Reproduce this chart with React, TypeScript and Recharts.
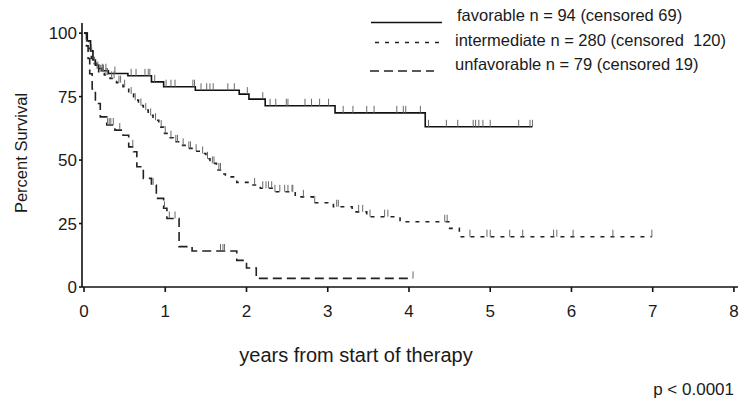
import React from "react";
import { LineChart, Line, XAxis, YAxis } from "recharts";

// ---- data ----
const xTicks = [0, 1, 2, 3, 4, 5, 6, 7, 8];
const yTicks = [0, 25, 50, 75, 100];

// favorable: event times and survival after each event
const favT = [0, 0.04, 0.08, 0.11, 0.14, 0.18, 0.22, 0.3, 0.54, 0.83, 0.98, 1.37, 1.91, 2.03, 2.23, 3.09, 4.2];
const favS = [100, 97, 93, 89.4, 87.4, 86.1, 85.2, 84.1, 83.2, 80.8, 78.9, 77.5, 76, 74, 71.4, 68.6, 63.1];
const favCens = [0.09, 0.23, 0.27, 0.38, 0.58, 0.64, 0.75, 0.79, 0.81, 0.87, 1.01, 1.07, 1.12, 1.34, 1.36, 1.44, 1.51, 1.55, 1.59, 1.77, 1.85, 2.01, 2.2, 2.29, 2.36, 2.49, 2.51, 2.72, 2.8, 2.9, 3.01, 3.19, 3.31, 3.48, 3.57, 3.85, 3.93, 3.96, 4.14, 4.24, 4.46, 4.6, 4.79, 4.82, 4.86, 4.91, 5.0, 5.35, 5.49, 5.52];

// intermediate
const intT = [0, 0.03, 0.06, 0.09, 0.11, 0.15, 0.18, 0.25, 0.32, 0.4, 0.48, 0.55, 0.61, 0.67, 0.73, 0.79, 0.85, 0.92, 0.98, 1.04, 1.1, 1.18, 1.26, 1.35, 1.43, 1.5, 1.55, 1.63, 1.7, 1.74, 1.88, 2.04, 2.17, 2.33, 2.6, 2.82, 3.07, 3.3, 3.48, 3.89, 4.49, 4.62];
const intS = [100, 97, 94, 90, 88, 86, 84.8, 83.5, 82.2, 80.5, 78.9, 76, 73.6, 71.5, 69.7, 67.6, 65.7, 63, 60.5, 58.8, 57.2, 55.8, 54.6, 53.5, 52.6, 50.5, 48.7, 46.1, 44.5, 43.4, 41.2, 40.2, 38.9, 37.5, 35.5, 33.2, 31.6, 29.6, 27.7, 25.7, 23.1, 19.8];
const intCens = [0.13, 0.16, 0.17, 0.2, 0.22, 0.24, 0.27, 0.29, 0.34, 0.37, 0.43, 0.45, 0.5, 0.58, 0.63, 0.7, 0.76, 0.82, 0.88, 0.95, 1.0, 1.07, 1.13, 1.15, 1.22, 1.29, 1.31, 1.38, 1.46, 1.52, 1.58, 1.6, 1.66, 1.68, 2.1, 2.2, 2.24, 2.27, 2.31, 2.35, 2.41, 2.47, 2.51, 2.56, 2.57, 2.7, 2.84, 3.11, 3.13, 3.38, 3.43, 3.52, 3.7, 3.74, 4.44, 4.47, 4.75, 4.96, 5.0, 5.24, 5.4, 5.78, 5.82, 6.02, 6.51, 6.99];

// unfavorable
const unfT = [0, 0.03, 0.05, 0.07, 0.1, 0.14, 0.2, 0.28, 0.38, 0.48, 0.55, 0.61, 0.65, 0.73, 0.83, 0.89, 0.98, 1.02, 1.17, 1.33, 1.88, 2.0, 2.12];
const unfS = [100, 95, 90, 84, 78, 72.3, 67, 63.8, 61.8, 59.8, 55.2, 53.3, 47.4, 42.8, 40.2, 34.9, 31, 27, 15.9, 14.2, 10.5, 7.5, 3.4];
const unfCens = [0.29, 0.31, 0.33, 0.36, 0.44, 0.6, 0.85, 0.99, 1.05, 1.12, 1.68, 1.71, 1.73, 4.05];

const legendLabels = [
  "favorable n = 94 (censored 69)",
  "intermediate n = 280 (censored  120)",
  "unfavorable n = 79 (censored 19)",
];

type Pt = { t: number; s: number; c?: boolean };

function build(ts: number[], ss: number[], cens: number[]): Pt[] {
  const pts: Pt[] = ts.map((t, i) => ({ t, s: ss[i] }));
  cens.forEach((ct) => {
    let s = ss[0];
    for (let i = 0; i < ts.length; i++) if (ts[i] <= ct) s = ss[i];
    pts.push({ t: ct, s, c: true });
  });
  pts.sort((a, b) => a.t - b.t || (a.c ? 1 : -1));
  return pts;
}

const favData = build(favT, favS, favCens);
const intData = build(intT, intS, intCens);
const unfData = build(unfT, unfS, unfCens);

const FONT = "'Liberation Sans', Arial, Helvetica, sans-serif";

const censorDot = (props: any) => {
  const { cx, cy, payload, index } = props;
  if (!payload || !payload.c || cx == null || cy == null) return <g key={"d" + index} />;
  return <line key={"d" + index} x1={cx} x2={cx} y1={cy} y2={cy - 7} stroke="#6a6a6a" strokeWidth={1} />;
};

export default function App() {
  return (
    <div style={{ position: "absolute", left: 0, top: 0, width: 741, height: 406, background: "#fff" }}>
      <LineChart width={741} height={406} margin={{ top: 23, right: 3, bottom: 89, left: 22 }}>
        <XAxis
          dataKey="t"
          type="number"
          domain={[-0.025, 8.05]}
          ticks={xTicks}
          allowDataOverflow
          height={30}
          tickSize={5}
          tickMargin={13}
          stroke="#111"
          strokeWidth={1.6}
          tick={{ fill: "#1a1a1a", fontSize: 17, fontFamily: FONT }}
        />
        <YAxis
          type="number"
          domain={[0, 104]}
          ticks={yTicks}
          allowDataOverflow
          width={60}
          tickSize={3}
          tickMargin={2}
          stroke="#111"
          strokeWidth={1.6}
          tick={{ fill: "#1a1a1a", fontSize: 17, fontFamily: FONT }}
        />
        <Line data={favData} dataKey="s" type="stepAfter" stroke="#111" strokeWidth={1.6} dot={censorDot} activeDot={false} isAnimationActive={false} />
        <Line data={intData} dataKey="s" type="stepAfter" stroke="#222" strokeWidth={1.6} strokeDasharray="4 6" dot={censorDot} activeDot={false} isAnimationActive={false} />
        <Line data={unfData} dataKey="s" type="stepAfter" stroke="#222" strokeWidth={1.6} strokeDasharray="9 5" dot={censorDot} activeDot={false} isAnimationActive={false} />
      </LineChart>
      <svg width={741} height={406} style={{ position: "absolute", left: 0, top: 0, pointerEvents: "none" }}>
        <g fontFamily={FONT} fill="#1a1a1a">
          <line x1={371} x2={442} y1={22.5} y2={22.5} stroke="#111" strokeWidth={1.4} />
          <text x={457} y={21} fontSize={16.5}>{legendLabels[0]}</text>
          <line x1={375} x2={442} y1={42.5} y2={42.5} stroke="#222" strokeWidth={1.4} strokeDasharray="4 6" />
          <text x={455} y={46} fontSize={16.5} style={{ whiteSpace: "pre" }}>{legendLabels[1]}</text>
          <line x1={370} x2={434} y1={71} y2={71} stroke="#222" strokeWidth={1.4} strokeDasharray="9 5" />
          <text x={455} y={69.5} fontSize={16.5}>{legendLabels[2]}</text>
          <text x={0} y={0} fontSize={16.5} textAnchor="middle" transform="translate(27 153) rotate(-90)">Percent Survival</text>
          <text x={356} y={362} fontSize={20} textAnchor="middle">years from start of therapy</text>
          <text x={734} y={395} fontSize={17} textAnchor="end">p &lt; 0.0001</text>
        </g>
      </svg>
    </div>
  );
}
